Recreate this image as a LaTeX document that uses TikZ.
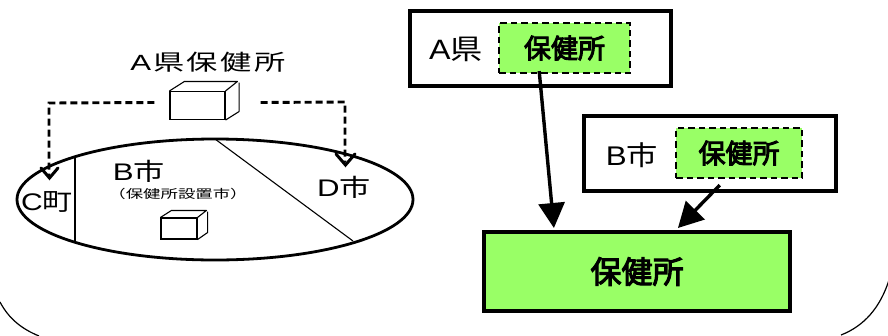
\documentclass[tikz,border=0pt]{standalone}
\usepackage{fontspec}
\setmainfont{Liberation Sans}
\newfontfamily\jp{Noto Sans CJK JP}
\newfontfamily\jpm[FakeBold=3.5]{Noto Sans CJK JP}
\usetikzlibrary{arrows.meta,calc,shapes.geometric}
\definecolor{hcgreen}{HTML}{99FF66}
\tikzset{
  x=1pt,y=-1pt,
  pane/.style={draw=black,line width=3.5pt,fill=white,inner sep=0pt},
  unitbox/.style={draw=black,line width=2.2pt,dash pattern=on 6.5pt off 4pt,fill=hcgreen,inner sep=0pt,font=\jpm\fontsize{27}{27}\selectfont},
  hubbox/.style={draw=black,line width=4pt,fill=hcgreen,inner sep=0pt,font=\jpm\fontsize{31}{31}\selectfont},
  lab/.style={inner sep=0pt},
  cubeline/.style={draw=black,line width=1.1pt,fill=white,inner sep=0pt},
  thinline/.style={draw=black,line width=1.1pt},
  dashedlink/.style={draw=black,line width=2.9pt,dash pattern=on 7pt off 4pt},
  feed/.style={draw=black,line width=3.4pt,-{Triangle[length=25pt,width=26pt]}},
  openhead/.style={draw=black,line width=3pt,line cap=round,line join=miter},
}
\newcommand{\wlab}[2]{\scalebox{#1}[1]{#2}}
\begin{document}
\begin{tikzpicture}
\useasboundingbox (0,0) rectangle (888,335);
% outer frame corners
\draw[line width=1.2pt] (0,302) .. controls (9,319) and (22,329) .. (39,336);
\draw[line width=1.2pt] (889,280) .. controls (880,308) and (864,326) .. (841,335);
% left map
\node[draw=black,line width=2.8pt,fill=white,ellipse,minimum width=396pt,minimum height=121pt,inner sep=0pt] (map) at (215,199.5) {};
\coordinate (cT) at (75,157); \coordinate (cB) at (75,241);
\coordinate (dT) at (215,139); \coordinate (dB) at (353,241);
\draw[thinline] (cT) -- (cB);
\draw[thinline] (dT) -- (dB);
% big cube
\node[cubeline,minimum width=55pt,minimum height=28pt] (cubeA) at (197.5,105.5) {};
\draw[thinline,line join=round] (cubeA.north west) -- ++(15,-9.5) -- ++(53,0) -- (cubeA.north east);
\draw[thinline,line join=round] (cubeA.south east) -- ++(13.5,-8.5) -- ++(0,-29);
% small cube
\node[cubeline,minimum width=36pt,minimum height=21pt] (cubeB) at (179,228.5) {};
\draw[thinline,line join=round] (cubeB.north west) -- ++(11,-7) -- ++(35,0) -- (cubeB.north east);
\draw[thinline,line join=round] (cubeB.south east) -- ++(10,-7) -- ++(0,-21);
% dashed links
\coordinate (lS) at ($(cubeA.west)+(-15,-3)$);
\coordinate (lC) at (49,103);
\coordinate (lE) at (49,176);
\coordinate (rS) at ($(cubeA.east)+(35,-3)$);
\coordinate (rC) at (345,102);
\coordinate (rE) at (345,162);
\draw[dashedlink] (lS) -- (lC) -- (lE);
\draw[dashedlink] (rS) -- (rC) -- (rE);
\draw[openhead] (41,168) -- (49.5,178) -- (58,168);
\draw[openhead] (336,154) -- (345.5,165) -- (355,154);
% labels left
\node[lab] (tA) at (208,62.5) {\wlab{1.42}{\fontsize{22}{22}\selectfont A\hspace{1.5pt}\jp\addfontfeature{LetterSpace=8}県保健所}};
\node[lab] (tB) at (139,171) {\wlab{1.3}{\fontsize{24}{24}\selectfont B\jp 市}};
\node[lab] (tBs) at (178,194) {\wlab{1.45}{\jp\fontsize{12}{12}\selectfont （保健所設置市）}};
\node[lab] (tC) at (47,201.5) {\wlab{1.25}{\fontsize{24}{24}\selectfont C\jp 町}};
\node[lab] (tD) at (344,187.5) {\wlab{1.3}{\fontsize{24}{24}\selectfont D\jp 市}};
% right panes
\node[pane,minimum width=261pt,minimum height=75pt] (pA) at (540.5,48.5) {};
\node[pane,minimum width=252pt,minimum height=75pt] (pB) at (710,153.5) {};
\node[unitbox,minimum width=131pt,minimum height=50pt] (uA) at (564.5,48) {保健所};
\node[unitbox,minimum width=126pt,minimum height=50pt] (uB) at (739,153) {保健所};
\node[lab] (tA2) at (456,49) {\wlab{1.15}{\fontsize{28}{28}\selectfont A\jp 県}};
\node[lab] (tB2) at (632,155) {\wlab{1.16}{\fontsize{27}{27}\selectfont B\jp 市}};
\node[hubbox,minimum width=306pt,minimum height=79pt] (hub) at (637,271.5) {保健所};
\draw[feed] ($(uA.south west)!0.31!(uA.south east)+(0,-3)$) -- ($(hub.north west)!0.232!(hub.north east)+(0,-2)$);
\draw[feed] ($(uB.south west)!0.35!(uB.south east)+(0,6)$) -- ($(hub.north west)!0.632!(hub.north east)+(0,-2)$);
\end{tikzpicture}
\end{document}
